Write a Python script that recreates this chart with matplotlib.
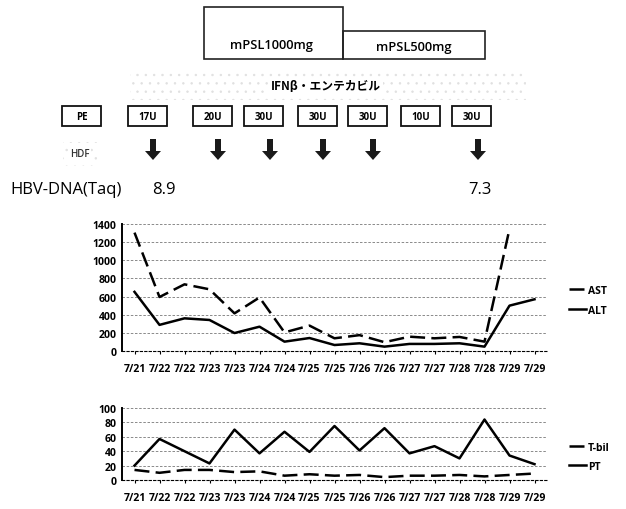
import matplotlib
matplotlib.use("Agg")
import matplotlib.pyplot as plt
from matplotlib.patches import Rectangle, FancyArrow
import numpy as np

# x categories (two readings per day)
dates = ["7/21", "7/22", "7/22", "7/23", "7/23", "7/24", "7/24", "7/25", "7/25",
         "7/26", "7/26", "7/27", "7/27", "7/28", "7/28", "7/29", "7/29"]

ast = [1305, 595, 735, 680, 415, 590, 205, 280, 140, 175, 97, 158, 140, 155, 103, 1345, np.nan]
alt = [652, 288, 360, 342, 198, 268, 103, 143, 66, 85, 48, 78, 78, 85, 48, 500, 570]

tbil = [14, 10, 14, 14, 11, 12, 6, 8, 6, 7, 4, 6, 6, 7, 5, 7, 9]
pt = [20, 57, 40, 23, 70, 37, 67, 39, 75, 41, 72, 37, 47, 30, 84, 34, 22]

# treatment annotations
doses = ["PE", "17U", "20U", "30U", "30U", "30U", "10U", "30U"]
dose_x = [62, 128, 193, 244, 298, 348, 401, 452]
hdf_x = [153, 218, 270, 323, 373, 478]

FONT = "Open Sans"
plt.rcParams["font.family"] = [FONT, "DejaVu Sans"]
plt.rcParams["hatch.linewidth"] = 0.5

fig = plt.figure(figsize=(6.26, 5.10), dpi=100)

# ---- top annotation layer in pixel coords ----
ov = fig.add_axes([0, 0, 1, 1])
ov.set_xlim(0, 626)
ov.set_ylim(510, 0)
ov.axis("off")

ov.add_patch(Rectangle((204, 8), 139, 52, fill=False, ec="#222222", lw=1.2))
ov.add_patch(Rectangle((343, 32), 142, 28, fill=False, ec="#222222", lw=1.2))
ov.text(271, 45, "mPSL1000mg", ha="center", va="center", fontsize=9.3, fontweight="semibold")
ov.text(414, 47, "mPSL500mg", ha="center", va="center", fontsize=9.3, fontweight="semibold")

# IFN band (speckled)
ov.add_patch(Rectangle((130, 73), 396, 28, facecolor="none", edgecolor="#e0e0e0",
                       hatch="..", lw=0))
ov.text(326, 87, "IFNβ・エンテカビル", ha="center", va="center", fontsize=8.5,
        fontweight="bold", family=["Noto Sans CJK JP", "DejaVu Sans"],
        bbox=dict(boxstyle="square,pad=0.15", fc="white", ec="none"))

for x, d in zip(dose_x, doses):
    ov.add_patch(Rectangle((x, 107), 39, 20, fill=False, ec="#111111", lw=1.3))
    ov.text(x + 19.5, 117, d, ha="center", va="center", fontsize=7, fontweight="bold")

ov.add_patch(Rectangle((63, 143), 35, 24, facecolor="none", edgecolor="#e0e0e0",
                       hatch="..", lw=0))
ov.text(80, 155, "HDF", ha="center", va="center", fontsize=7, color="#333333",
        fontweight="semibold",
        bbox=dict(boxstyle="square,pad=0.1", fc="white", ec="none"))

for x in hdf_x:
    ov.add_patch(FancyArrow(x, 140, 0, 21, width=6, head_width=16, head_length=9,
                            length_includes_head=True, color="#1a1a1a", lw=0))

ov.text(10, 190, "HBV-DNA(Taq)", ha="left", va="center", fontsize=12)
ov.text(152, 190, "8.9", ha="left", va="center", fontsize=12)
ov.text(468, 190, "7.3", ha="left", va="center", fontsize=12)


def style(ax, ymax, step):
    ax.set_ylim(0, ymax)
    ax.set_yticks(np.arange(0, ymax + 1, step))
    ax.set_xlim(-0.5, len(dates) - 0.5)
    ax.set_xticks(range(len(dates)))
    ax.set_xticklabels(dates, fontsize=7.6, fontweight="bold")
    for lab in ax.get_yticklabels():
        lab.set_fontsize(7.6)
        lab.set_fontweight("bold")
    ax.grid(axis="y", ls=(0, (3, 2)), lw=0.6, color="#777777")
    ax.set_axisbelow(True)
    for s in ["top", "right"]:
        ax.spines[s].set_visible(False)
    ax.spines["left"].set_linewidth(1.4)
    ax.spines["bottom"].set_linestyle((0, (2, 2)))
    ax.spines["bottom"].set_linewidth(0.8)
    ax.tick_params(axis="x", length=2, width=0.8, pad=7)
    ax.tick_params(axis="y", length=0, pad=4)


dash = (0, (6, 2.5))
legend_kw = dict(loc="center left", frameon=False, handlelength=1.6,
                 handletextpad=0.2, prop=dict(size=7.5, weight="bold"))

ax1 = fig.add_axes([122 / 626, (510 - 352) / 510, 425 / 626, 127 / 510])
x = np.arange(len(dates))
ax1.plot(x, ast, color="black", lw=1.8, ls=dash, label="AST")
ax1.plot(x, alt, color="black", lw=1.8, label="ALT")
style(ax1, 1400, 200)
ax1.legend(bbox_to_anchor=(1.03, 0.40), labelspacing=0.9, **legend_kw)

ax2 = fig.add_axes([122 / 626, (510 - 481) / 510, 425 / 626, 72 / 510])
ax2.plot(x, tbil, color="black", lw=1.8, ls=dash, label="T-bil")
ax2.plot(x, pt, color="black", lw=1.8, label="PT")
style(ax2, 100, 20)
ax2.legend(bbox_to_anchor=(1.03, 0.32), labelspacing=0.8, **legend_kw)

fig.savefig("out.png", dpi=100)
